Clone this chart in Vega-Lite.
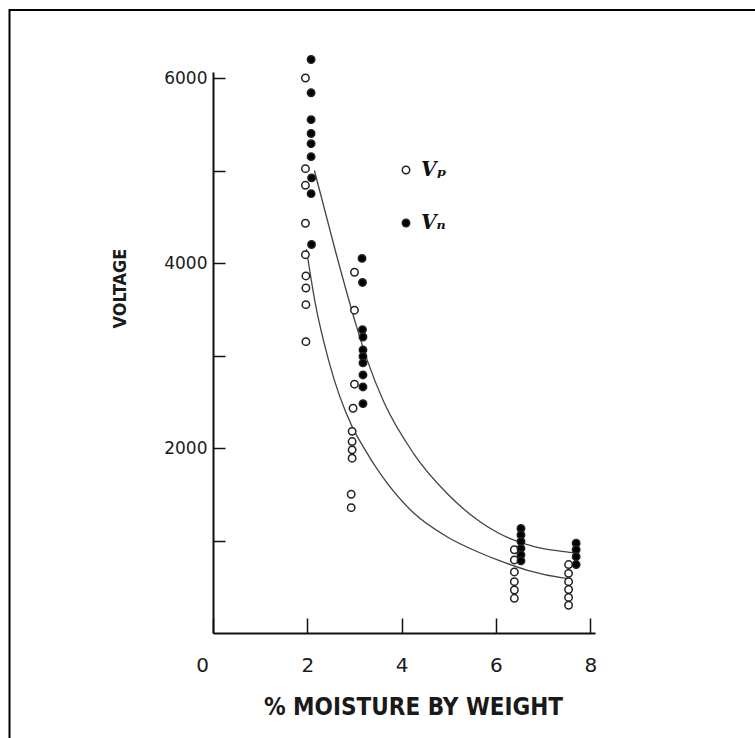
{
  "$schema": "https://vega.github.io/schema/vega-lite/v6.json",
  "width": 382,
  "height": 561,
  "autosize": {"type": "none"},
  "padding": {"left": 213, "top": 72, "right": 160, "bottom": 105},
  "background": "white",
  "config": {
    "view": {"stroke": null},
    "axis": {
      "grid": false,
      "domainColor": "#111",
      "domainWidth": 2,
      "tickColor": "#111",
      "tickWidth": 1.5,
      "labelFont": "DejaVu Sans",
      "labelColor": "#1a1a1a",
      "titleFont": "DejaVu Sans Condensed",
      "titleFontWeight": "bold",
      "titleColor": "#1a1a1a"
    },
    "legend": {
      "symbolStrokeColor": "#222",
      "symbolStrokeWidth": 1.5,
      "symbolType": "circle",
      "symbolSize": 55,
      "labelFont": "DejaVu Serif",
      "labelFontWeight": "bold",
      "labelFontStyle": "italic",
      "labelFontSize": 20,
      "labelColor": "#111",
      "labelOffset": 5,
      "padding": 0,
      "rowPadding": 33
    }
  },
  "datasets": {
    "points": [
      {"m": 1.96, "v": 6000, "series": "Vₚ"},
      {"m": 1.96, "v": 5020, "series": "Vₚ"},
      {"m": 1.96, "v": 4840, "series": "Vₚ"},
      {"m": 1.96, "v": 4430, "series": "Vₚ"},
      {"m": 1.96, "v": 4090, "series": "Vₚ"},
      {"m": 1.97, "v": 3860, "series": "Vₚ"},
      {"m": 1.97, "v": 3730, "series": "Vₚ"},
      {"m": 1.97, "v": 3550, "series": "Vₚ"},
      {"m": 1.97, "v": 3150, "series": "Vₚ"},
      {"m": 3.0, "v": 3900, "series": "Vₚ"},
      {"m": 3.0, "v": 3490, "series": "Vₚ"},
      {"m": 3.0, "v": 2690, "series": "Vₚ"},
      {"m": 2.97, "v": 2430, "series": "Vₚ"},
      {"m": 2.95, "v": 2180, "series": "Vₚ"},
      {"m": 2.95, "v": 2070, "series": "Vₚ"},
      {"m": 2.95, "v": 1980, "series": "Vₚ"},
      {"m": 2.95, "v": 1890, "series": "Vₚ"},
      {"m": 2.93, "v": 1500, "series": "Vₚ"},
      {"m": 2.93, "v": 1355, "series": "Vₚ"},
      {"m": 6.39, "v": 900, "series": "Vₚ"},
      {"m": 6.39, "v": 790, "series": "Vₚ"},
      {"m": 6.39, "v": 660, "series": "Vₚ"},
      {"m": 6.39, "v": 555, "series": "Vₚ"},
      {"m": 6.39, "v": 465, "series": "Vₚ"},
      {"m": 6.39, "v": 375, "series": "Vₚ"},
      {"m": 7.54, "v": 740, "series": "Vₚ"},
      {"m": 7.54, "v": 645, "series": "Vₚ"},
      {"m": 7.54, "v": 555, "series": "Vₚ"},
      {"m": 7.54, "v": 470, "series": "Vₚ"},
      {"m": 7.54, "v": 385, "series": "Vₚ"},
      {"m": 7.54, "v": 300, "series": "Vₚ"},
      {"m": 2.08, "v": 6200, "series": "Vₙ"},
      {"m": 2.08, "v": 5840, "series": "Vₙ"},
      {"m": 2.08, "v": 5550, "series": "Vₙ"},
      {"m": 2.08, "v": 5400, "series": "Vₙ"},
      {"m": 2.08, "v": 5290, "series": "Vₙ"},
      {"m": 2.08, "v": 5150, "series": "Vₙ"},
      {"m": 2.09, "v": 4920, "series": "Vₙ"},
      {"m": 2.08, "v": 4750, "series": "Vₙ"},
      {"m": 2.09, "v": 4200, "series": "Vₙ"},
      {"m": 3.16, "v": 4050, "series": "Vₙ"},
      {"m": 3.17, "v": 3790, "series": "Vₙ"},
      {"m": 3.17, "v": 3280, "series": "Vₙ"},
      {"m": 3.18, "v": 3200, "series": "Vₙ"},
      {"m": 3.18, "v": 3060, "series": "Vₙ"},
      {"m": 3.18, "v": 2990, "series": "Vₙ"},
      {"m": 3.18, "v": 2920, "series": "Vₙ"},
      {"m": 3.18, "v": 2790, "series": "Vₙ"},
      {"m": 3.18, "v": 2660, "series": "Vₙ"},
      {"m": 3.18, "v": 2480, "series": "Vₙ"},
      {"m": 6.53, "v": 1130, "series": "Vₙ"},
      {"m": 6.53, "v": 1060, "series": "Vₙ"},
      {"m": 6.53, "v": 990, "series": "Vₙ"},
      {"m": 6.53, "v": 915, "series": "Vₙ"},
      {"m": 6.53, "v": 845, "series": "Vₙ"},
      {"m": 6.53, "v": 780, "series": "Vₙ"},
      {"m": 7.70, "v": 970, "series": "Vₙ"},
      {"m": 7.70, "v": 900, "series": "Vₙ"},
      {"m": 7.70, "v": 825, "series": "Vₙ"},
      {"m": 7.70, "v": 740, "series": "Vₙ"}
    ],
    "curves": [
      {"m": 2.15, "v": 5000, "curve": "upper"},
      {"m": 2.59, "v": 4141, "curve": "upper"},
      {"m": 3.04, "v": 3320, "curve": "upper"},
      {"m": 3.27, "v": 2950, "curve": "upper"},
      {"m": 3.62, "v": 2500, "curve": "upper"},
      {"m": 4.25, "v": 1943, "curve": "upper"},
      {"m": 4.96, "v": 1510, "curve": "upper"},
      {"m": 5.67, "v": 1200, "curve": "upper"},
      {"m": 6.06, "v": 1078, "curve": "upper"},
      {"m": 6.81, "v": 935, "curve": "upper"},
      {"m": 7.45, "v": 879, "curve": "upper"},
      {"m": 7.7, "v": 862, "curve": "upper"},
      {"m": 1.98, "v": 4150, "curve": "lower"},
      {"m": 2.17, "v": 3560, "curve": "lower"},
      {"m": 2.45, "v": 2950, "curve": "lower"},
      {"m": 2.95, "v": 2231, "curve": "lower"},
      {"m": 3.19, "v": 2010, "curve": "lower"},
      {"m": 3.55, "v": 1720, "curve": "lower"},
      {"m": 4.25, "v": 1300, "curve": "lower"},
      {"m": 4.96, "v": 1041, "curve": "lower"},
      {"m": 5.67, "v": 865, "curve": "lower"},
      {"m": 6.06, "v": 785, "curve": "lower"},
      {"m": 6.67, "v": 678, "curve": "lower"},
      {"m": 7.45, "v": 594, "curve": "lower"},
      {"m": 7.6, "v": 585, "curve": "lower"}
    ]
  },
  "layer": [
    {
      "data": {"values": [{}]},
      "mark": {"type": "rect", "filled": false, "stroke": "#000", "strokeWidth": 2},
      "encoding": {
        "x": {"datum": -4.315, "type": "quantitative"},
        "x2": {"datum": 14},
        "y": {"datum": 6735, "type": "quantitative"},
        "y2": {"datum": -3000}
      }
    },
    {
      "data": {"name": "curves"},
      "mark": {"type": "line", "interpolate": "monotone", "stroke": "#444", "strokeWidth": 1.3},
      "encoding": {
        "x": {"field": "m", "type": "quantitative"},
        "y": {"field": "v", "type": "quantitative"},
        "detail": {"field": "curve"}
      }
    },
    {
      "data": {"name": "points"},
      "mark": {"type": "point", "shape": "circle", "filled": true, "stroke": "#222", "strokeWidth": 1.5, "size": 55, "opacity": 1},
      "encoding": {
        "x": {
          "field": "m", "type": "quantitative",
          "scale": {"domain": [0, 8.1], "nice": false, "zero": false},
          "axis": {
            "values": [0, 2, 4, 6, 8],
            "tickSize": -15,
            "labelPadding": 37,
            "labelFontSize": 20,
            "labelFlush": false,
            "labelOffset": {"condition": {"test": "datum.value == 0", "value": -11}, "value": 0},
            "title": "% MOISTURE BY WEIGHT",
            "titleFontSize": 24,
            "titleX": 200,
            "titleY": 74,
            "titleAlign": "center",
            "titleBaseline": "middle",
            "titleAngle": 0
          }
        },
        "y": {
          "field": "v", "type": "quantitative",
          "scale": {"domain": [0, 6065], "nice": false, "zero": false},
          "axis": {
            "values": [1000, 2000, 3000, 4000, 5000, 6000],
            "format": "d",
            "labelExpr": "datum.value % 2000 == 0 ? datum.label : ''",
            "tickSize": -12,
            "labelPadding": 18,
            "labelFontSize": 17,
            "title": "VOLTAGE",
            "titleFontSize": 18,
            "titleX": -93,
            "titleY": 216,
            "titleAngle": -90,
            "titleAlign": "center",
            "titleBaseline": "middle"
          }
        },
        "fill": {
          "field": "series", "type": "nominal",
          "scale": {"domain": ["Vₚ", "Vₙ"], "range": ["white", "black"]},
          "legend": {"title": null, "orient": "none", "legendX": 183, "legendY": 88}
        }
      }
    }
  ]
}
